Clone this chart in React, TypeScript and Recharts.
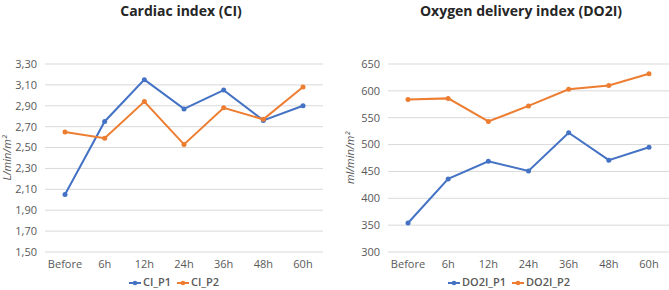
import React from 'react';
import { LineChart, Line, XAxis, YAxis, CartesianGrid } from 'recharts';

const categories = ['Before', '6h', '12h', '24h', '36h', '48h', '60h'];
const ciP1 = [2.05, 2.75, 3.15, 2.87, 3.05, 2.76, 2.9];
const ciP2 = [2.65, 2.59, 2.94, 2.53, 2.88, 2.77, 3.08];
const do2iP1 = [354, 436, 469, 451, 522, 471, 495];
const do2iP2 = [584, 586, 543, 572, 603, 610, 632];
const ciTicks = [1.5, 1.7, 1.9, 2.1, 2.3, 2.5, 2.7, 2.9, 3.1, 3.3];
const do2iTicks = [300, 350, 400, 450, 500, 550, 600, 650];

const BLUE = '#4472C4';
const ORANGE = '#ED7D31';
const FONT = '"Open Sans", "Noto Sans", sans-serif';
const GRAY = '#595959';

type PanelProps = {
  left: number;
  width: number;
  title: string;
  yLabel: string;
  names: [string, string];
  s1: number[];
  s2: number[];
  ticks: number[];
  domain: [number, number];
  yWidth: number;
  rightMargin: number;
  xPad: number;
  fmt: (v: number) => string;
  titleX: number;
  yLabelX: number;
  legendX: number;
};

function LegendIcon({ color }: { color: string }) {
  return (
    <svg width={12} height={8} style={{ display: 'inline-block', verticalAlign: 'middle', marginRight: 2 }}>
      <line x1={0} y1={4} x2={12} y2={4} stroke={color} strokeWidth={2} />
      <circle cx={6} cy={4} r={2.3} fill={color} />
    </svg>
  );
}

function Panel(p: PanelProps) {
  const data = categories.map((c, i) => ({ cat: c, a: p.s1[i], b: p.s2[i] }));
  return (
    <div style={{ position: 'absolute', left: p.left, top: 0, width: p.width, height: 290 }}>
      <LineChart
        width={p.width}
        height={290}
        data={data}
        margin={{ top: 64, right: p.rightMargin, bottom: 8, left: 0 }}
      >
        <CartesianGrid vertical={false} stroke="#D9D9D9" strokeWidth={1} />
        <XAxis
          dataKey="cat"
          height={30}
          axisLine={false}
          tickLine={false}
          interval={0}
          padding={{ left: p.xPad, right: p.xPad }}
          tick={{ fill: GRAY, fontSize: 11, fontFamily: FONT }}
        />
        <YAxis
          width={p.yWidth}
          domain={p.domain}
          ticks={p.ticks}
          interval={0}
          axisLine={false}
          tickLine={false}
          tickFormatter={p.fmt}
          tick={{ fill: GRAY, fontSize: 11, fontFamily: FONT }}
        />
        <Line
          dataKey="a"
          name={p.names[0]}
          stroke={BLUE}
          strokeWidth={2}
          dot={{ r: 2.5, fill: BLUE, stroke: BLUE, strokeWidth: 0 }}
          isAnimationActive={false}
        />
        <Line
          dataKey="b"
          name={p.names[1]}
          stroke={ORANGE}
          strokeWidth={2}
          dot={{ r: 2.5, fill: ORANGE, stroke: ORANGE, strokeWidth: 0 }}
          isAnimationActive={false}
        />
      </LineChart>
      <div
        style={{
          position: 'absolute',
          left: p.titleX - 150,
          width: 300,
          top: 1,
          textAlign: 'center',
          fontFamily: FONT,
          fontWeight: 700,
          fontSize: 14,
          color: '#262626',
          lineHeight: '20px',
        }}
      >
        {p.title}
      </div>
      <div
        style={{
          position: 'absolute',
          left: p.yLabelX - 50,
          top: 150,
          width: 100,
          height: 16,
          lineHeight: '16px',
          textAlign: 'center',
          transform: 'rotate(-90deg)',
          fontFamily: FONT,
          fontStyle: 'italic',
          fontSize: 11,
          color: GRAY,
        }}
      >
        {p.yLabel}
      </div>
      <div
        style={{
          position: 'absolute',
          left: p.legendX - 100,
          width: 200,
          top: 275,
          textAlign: 'center',
          fontFamily: FONT,
          fontWeight: 600,
          fontSize: 11,
          color: GRAY,
          lineHeight: '14px',
          whiteSpace: 'nowrap',
        }}
      >
        <LegendIcon color={BLUE} />
        <span style={{ marginRight: 6 }}>{p.names[0]}</span>
        <LegendIcon color={ORANGE} />
        <span>{p.names[1]}</span>
      </div>
    </div>
  );
}

export default function App() {
  return (
    <div style={{ position: 'absolute', left: 0, top: 0, width: 669, height: 290, background: '#fff', overflow: 'hidden' }}>
      <Panel
        left={0}
        width={335}
        title="Cardiac index (CI)"
        yLabel="L/min/m²"
        names={['CI_P1', 'CI_P2']}
        s1={ciP1}
        s2={ciP2}
        ticks={ciTicks}
        domain={[1.5, 3.3]}
        yWidth={45}
        rightMargin={12}
        xPad={20}
        fmt={(v) => v.toFixed(2).replace('.', ',')}
        titleX={181}
        yLabelX={7}
        legendX={174}
      />
      <Panel
        left={334}
        width={335}
        title="Oxygen delivery index (DO2I)"
        yLabel="ml/min/m²"
        names={['DO2I_P1', 'DO2I_P2']}
        s1={do2iP1}
        s2={do2iP2}
        ticks={do2iTicks}
        domain={[300, 650]}
        yWidth={54}
        rightMargin={0}
        xPad={20}
        fmt={(v) => String(v)}
        titleX={187}
        yLabelX={16}
        legendX={175}
      />
    </div>
  );
}
